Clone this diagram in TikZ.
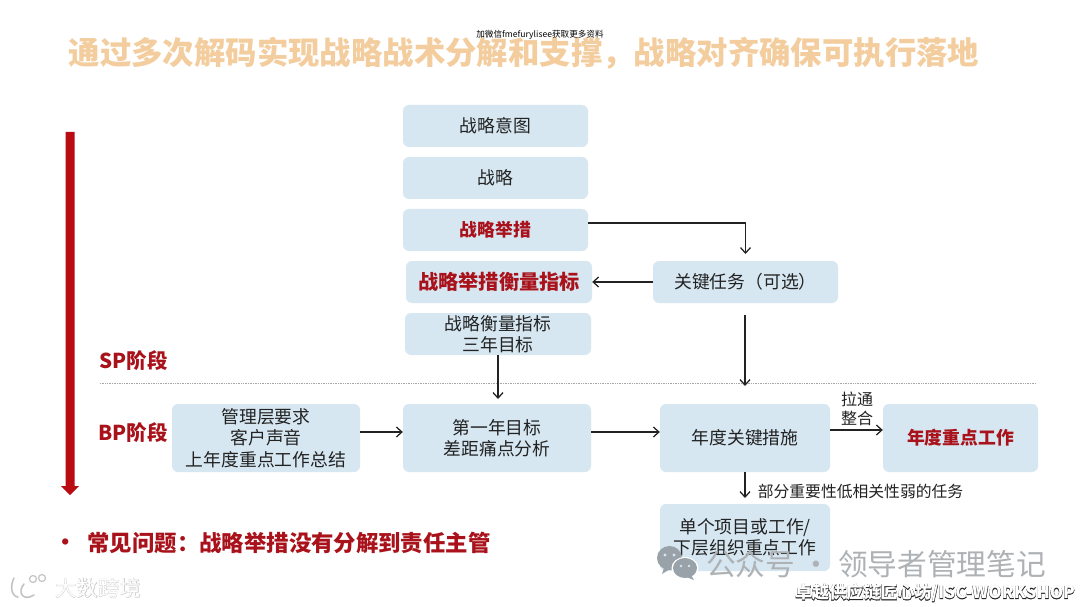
\documentclass[tikz,border=0pt]{standalone}
\usepackage{fontspec}
\usetikzlibrary{arrows.meta}
\setmainfont{Noto Sans CJK SC}
\newfontfamily\outlinefont[FakeBold=3]{Noto Sans CJK SC}
\newfontfamily\softoutline[FakeBold=1.6]{Noto Sans CJK SC}
\definecolor{boxblue}{HTML}{D6E7F2}
\definecolor{deepred}{HTML}{A9121A}
\definecolor{arrowred}{HTML}{BA0A12}
\definecolor{titleorange}{HTML}{F3CD9E}
\definecolor{inkgray}{HTML}{222222}
\definecolor{wmgray}{HTML}{AEB2B5}
\definecolor{icongray}{HTML}{98A2A8}
\definecolor{logogray}{HTML}{C4C4C4}
\tikzset{
  x=1pt,y=-1pt,
  box/.style={fill=boxblue,rounded corners=6pt,inner sep=0pt,align=center,font=\fontsize{17.8}{21.5}\selectfont,text=inkgray},
  small/.style={box,minimum width=185pt,minimum height=42pt},
  tall/.style={box,minimum height=68pt},
  hot/.style={text=deepred,font=\fontsize{17.8}{21.5}\selectfont\bfseries},
  link/.style={draw=inkgray,line width=1.25pt,-{Straight Barb[length=5.5pt,width=10pt]}},
  plain/.style={inner sep=0pt,text=inkgray},
  phase/.style={inner sep=0pt,text=deepred,font=\fontsize{20.5}{24}\selectfont\bfseries},
}
\begin{document}
\begin{tikzpicture}
\useasboundingbox (0,0) rectangle (1080,607);
\fill[white] (0,0) rectangle (1080,607);
% title
\node[inner sep=0pt,text=titleorange,font=\fontsize{31.4}{35}\selectfont\bfseries] (title) at (524,53) {通过多次解码实现战略战术分解和支撑，战略对齐确保可执行落地};
\node[inner sep=0pt,text=black,font=\fontsize{8.6}{10}\selectfont] (note) at (540,35) {加微信fmefurylisee获取更多资料};
% red arrow
\fill[arrowred] (65.5,132) -- (74.5,132) -- (74.5,486) -- (79,486) -- (70,495) -- (61,486) -- (65.5,486) -- cycle;
% dotted rule
\coordinate (ruleL) at (100,383);
\coordinate (ruleR) at (1036,383);
\draw[gray!70,line width=.7pt,densely dotted] (ruleL) -- (ruleR);
\node[phase] (sp) at (133.5,361) {SP阶段};
\node[phase] (bp) at (133,433) {BP阶段};
% upper boxes
\node[small] (intent) at (495.5,126) {战略意图};
\node[small] (strategy) at (495.5,178) {战略};
\node[small,hot] (action) at (495.5,230) {战略举措};
\node[small,minimum width=186pt,hot,font=\fontsize{20.2}{24}\selectfont\bfseries] (actionkpi) at (499,282) {战略举措衡量指标};
\node[small,minimum width=186pt] (kpi) at (498,334) {战略衡量指标\\三年目标};
\node[small] (task) at (745.5,282) {关键任务（可选）};
% lower boxes
\node[tall,minimum width=188pt] (mgmt) at (266,438) {管理层要求\\客户声音\\上年度重点工作总结};
\node[tall,minimum width=188pt] (year1) at (497,438) {第一年目标\\差距痛点分析};
\node[tall,minimum width=170pt] (annual) at (745,438) {年度关键措施};
\node[tall,minimum width=155pt,hot] (focus) at (960.5,438) {年度重点工作};
\node[tall,minimum width=170pt,minimum height=67pt] (project) at (745,537.5) {单个项目或工作/\\下层组织重点工作};
% connectors
\draw[link] (action.east |- 0,223) -| (task.north |- 0,254);
\draw[link] (task.west) -- (actionkpi.east);
\coordinate (taskOut) at (745,315);
\coordinate (taskEnd) at (745,386);
\draw[link] (taskOut) -- (taskEnd);
\coordinate (kpiEnd) at (498,399);
\draw[link] (kpi.south -| kpiEnd) -- (kpiEnd);
\draw[link] (mgmt.east |- 0,432) -- (year1.west |- 0,432);
\draw[link] (year1.east |- 0,432) -- (annual.west |- 0,432);
\draw[link] (annual.east |- 0,430) -- (focus.west |- 0,430);
\coordinate (projEnd) at (745,498);
\draw[link] (annual.south -| projEnd) -- (projEnd);
% labels
\node[plain,font=\fontsize{16}{19}\selectfont,align=center] (pull) at (857,408.5) {拉通\\整合};
\node[plain,font=\fontsize{15.8}{18}\selectfont] (weak) at (860.5,491) {部分重要性低相关性弱的任务};
% bullet
\node[inner sep=0pt,text=deepred,font=\fontsize{22.4}{26}\selectfont\bfseries] (bullet) at (66,545) {·};
\node[inner sep=0pt,text=deepred,font=\fontsize{22.4}{26}\selectfont\bfseries] (issue) at (289,543) {常见问题：战略举措没有分解到责任主管};
% watermarks
\fill[icongray] (669.5,558) ellipse (12.5 and 12);
\fill[icongray] (664,568) -- (662,574) -- (670,569) -- cycle;
\fill[white] (685,568) ellipse (13.5 and 11);
\fill[icongray] (685,568) ellipse (12 and 10);
\fill[icongray] (691,575) -- (694,580) -- (684,576) -- cycle;
\fill[boxblue] (665,555) circle (1.6) (674,555) circle (1.6) (681,566) circle (1.4) (689,566) circle (1.4);
\node[inner sep=0pt,text=wmgray,font=\fontsize{29.7}{33}\selectfont] (wm1) at (876,564) {公众号 · 领导者管理笔记};
\draw[logogray,line width=1.6pt,line cap=round] (14,578) .. controls (10,586) and (11,596) .. (18,597);
\draw[logogray,line width=1.6pt,line cap=round] (24,584) .. controls (17,592) and (23,602) .. (34,595);
\draw[logogray,line width=1.2pt] (33,579) circle (3.5);
\draw[logogray,line width=1.2pt] (42,578) circle (3.5);
\node[inner sep=0pt,font=\fontsize{21.5}{24}\selectfont] (wm2) at (98,588) {\rlap{\softoutline\color{logogray}大数跨境}\color{white}大数跨境};
\node[inner sep=0pt,font=\fontsize{17.1}{20}\selectfont\bfseries] (wm3) at (935,593) {\rlap{\outlinefont\color{inkgray}卓越供应链匠心坊/ISC-WORKSHOP}\color{white}卓越供应链匠心坊/ISC-WORKSHOP};
\end{tikzpicture}
\end{document}
